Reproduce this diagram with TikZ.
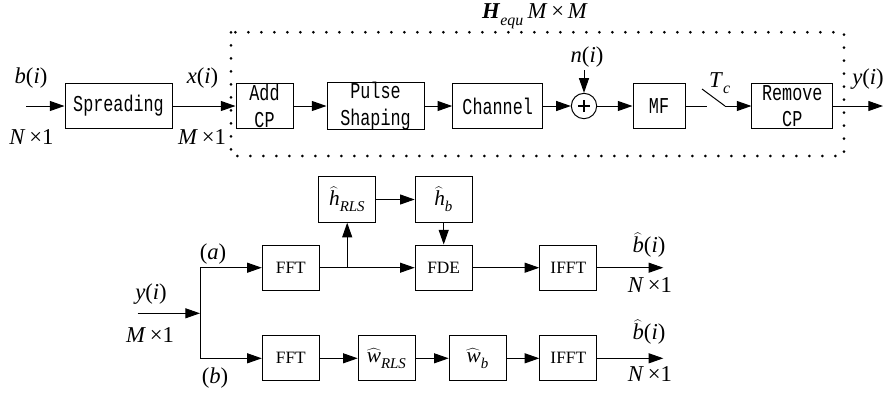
\documentclass[tikz,border=0pt]{standalone}
\usepackage{fontspec}
\setmainfont{Liberation Serif}
\newfontfamily\monofont[FakeStretch=0.74]{Liberation Mono}
\newcommand{\vi}[1]{\textit{#1}}
\newcommand{\sbs}[1]{\raisebox{-0.3ex}{\textsubscript{\textit{#1}}}}
\newcommand{\hatv}[1]{$\widehat{\mbox{\textit{#1}}}$}
\usetikzlibrary{arrows.meta}

\begin{document}
\begin{tikzpicture}[x=0.75pt,y=-0.75pt,line width=0.75pt,
  >={Triangle[length=11pt,width=7.5pt]},
  tbox/.style={draw,inner sep=0pt,minimum height=34.3pt,align=center,
    font=\fontsize{17}{20}\selectfont\monofont},
  serbox/.style={draw,inner sep=0pt,minimum width=42.75pt,minimum height=34pt,
    font=\fontsize{13}{15}\selectfont},
  hatbox/.style={serbox,font=\fontsize{16}{17}\selectfont},
  lbl/.style={inner sep=0pt,font=\fontsize{17}{19}\selectfont},
  dots/.style={line width=2.2pt,line cap=round,dash pattern=on 0pt off 9.75pt}]
\useasboundingbox (0,0) rectangle (890,394);

% transmitter and channel
\node[tbox,minimum width=80.25pt] (spread) at (118.5,106) {Spreading};
\node[tbox,minimum width=42.75pt] (addcp) at (264.5,106) {Add\\CP};
\node[tbox,minimum width=72.75pt] (pulse) at (375.5,106) {Pulse\\Shaping};
\node[tbox,minimum width=67.5pt] (chan) at (497.7,106) {Channel};
\node[draw,circle,inner sep=0pt,minimum size=19pt] (sum) at (584,106) {};
\draw[line width=1.8pt] ([xshift=-4.5pt]sum.center) -- ([xshift=4.5pt]sum.center);
\draw[line width=1.8pt] ([yshift=-4.5pt]sum.center) -- ([yshift=4.5pt]sum.center);
\node[tbox,minimum width=39pt] (mf) at (659,106) {MF};
\node[tbox,minimum width=60.5pt] (rmcp) at (792.3,106) {Remove\\CP};
\draw[dots] (231,32.3) rectangle (844,156);

\coordinate (bin) at (26,106);
\coordinate (swa) at (707,106);
\coordinate (swt) at (702,89);
\coordinate (swb) at (725,106);
\coordinate (yout) at (883,106);

\node[lbl] (blab) at (31,78) {\vi{b}(\vi{i})};
\node[lbl] (nlab) at (31.5,137) {\vi{N}\,\texttimes1};
\node[lbl] (xlab) at (202.5,78) {\vi{x}(\vi{i})};
\node[lbl] (mlab) at (202,137) {\vi{M}\,\texttimes1};
\node[lbl] (hequ) at (535,16) {\textbf{\vi{H}}\sbs{equ}\,\vi{M}\,\texttimes\,\vi{M}};
\node[lbl,inner sep=2pt] (noise) at (587,57) {\vi{n}(\vi{i})};
\node[lbl] (tclab) at (720,83) {\vi{T}\sbs{c}};
\node[lbl] (ylab) at (868,79) {\vi{y}(\vi{i})};

\draw[->] (bin) -- (spread);
\draw[->] (spread) -- (addcp);
\draw[->] (addcp) -- (pulse);
\draw[->] (pulse) -- (chan);
\draw[->] (chan) -- (sum);
\draw[->] (sum) -- (mf);
\draw[->] (noise.south -| sum) -- (sum);
\draw (mf) -- (swa);
\draw (swt) -- (swb);
\draw[->] (swb) -- (rmcp);
\draw[->] (rmcp) -- (yout);

% receivers (a) and (b)
\node[serbox] (ffta) at (290.8,267.7) {FFT};
\node[serbox] (fde) at (443.7,267.7) {FDE};
\node[serbox] (iffta) at (568.3,267.7) {IFFT};
\node[hatbox] (hrls) at (347.2,199.5) {\hatv{h}\sbs{RLS}};
\node[hatbox] (hb) at (443.7,199.5) {\hatv{h}\sbs{b}};
\node[serbox] (fftb) at (290.8,358.3) {FFT};
\node[hatbox] (wrls) at (386.7,358.3) {\hatv{w}\sbs{RLS}};
\node[hatbox] (wb) at (477.7,358.3) {\hatv{w}\sbs{b}};
\node[serbox] (ifftb) at (568.3,358.3) {IFFT};

\coordinate (yin) at (137.7,313.3);
\coordinate (split) at (200,313.3);
\coordinate (sa) at (200,267.7);
\coordinate (sb) at (200,358.3);
\coordinate (tap) at (hrls |- ffta);
\coordinate (outa) at (663.3,267.7);
\coordinate (outb) at (663.3,358.3);

\node[lbl] (alab) at (213,254) {(\vi{a})};
\node[lbl] (bblab) at (215,378) {(\vi{b})};
\node[lbl] (yinlab) at (151,294) {\vi{y}(\vi{i})};
\node[lbl] (minlab) at (150,335) {\vi{M}\,\texttimes1};
\node[lbl] (bhata) at (649,245) {\hatv{b}(\vi{i})};
\node[lbl] (nouta) at (650,285) {\vi{N}\,\texttimes1};
\node[lbl] (bhatb) at (649,332) {\hatv{b}(\vi{i})};
\node[lbl] (noutb) at (650,374) {\vi{N}\,\texttimes1};

\draw[->] (yin) -- (split);
\draw (sa) -- (sb);
\draw[->] (sa) -- (ffta);
\draw[->] (sb) -- (fftb);
\draw[->] (ffta) -- (fde);
\draw[->] (tap) -- (hrls);
\draw[->] (hrls) -- (hb);
\draw[->] (hb) -- (fde);
\draw[->] (fde) -- (iffta);
\draw[->] (iffta) -- (outa);
\draw[->] (fftb) -- (wrls);
\draw[->] (wrls) -- (wb);
\draw[->] (wb) -- (ifftb);
\draw[->] (ifftb) -- (outb);

\end{tikzpicture}
\end{document}
